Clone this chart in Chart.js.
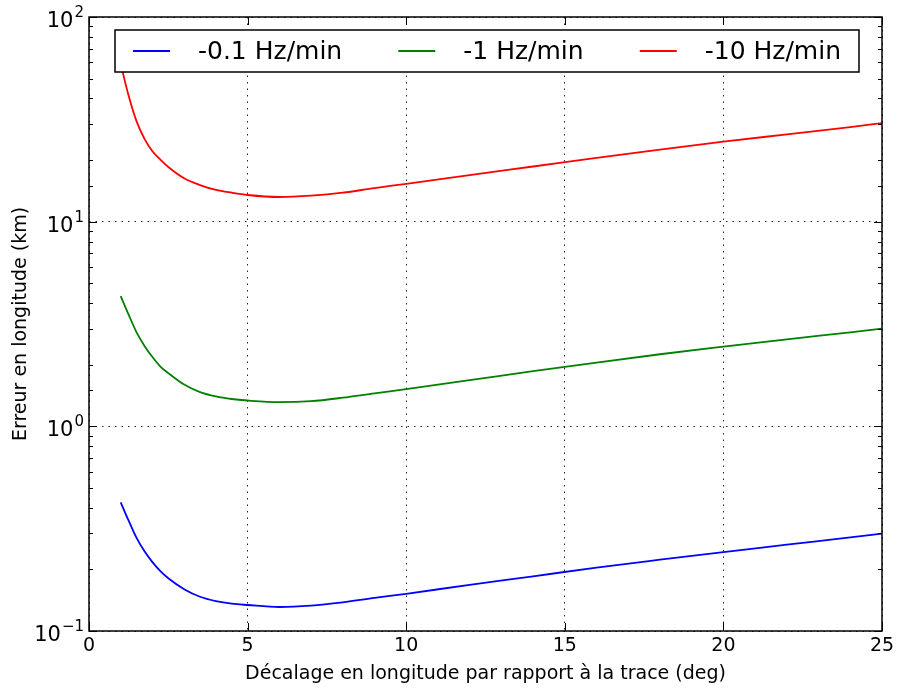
<!DOCTYPE html>
<html>
<head>
<meta charset="utf-8">
<script src="https://cdn.jsdelivr.net/npm/chart.js@4.4.1/dist/chart.umd.min.js"></script>
<style>html,body{margin:0;padding:0;background:#fff}</style>
</head>
<body>
<canvas id="myChart" width="899" height="693"></canvas>
<script>
// x : décalage en longitude (deg)
const xs = [1, 1.25, 1.5, 1.75, 2, 2.25, 2.5, 3, 3.5, 4, 4.5, 5, 6, 7, 8, 9, 10, 12, 14, 16, 18, 20, 22, 24, 25];

// erreur en longitude (km)
const err01 = [0.425, 0.346, 0.285, 0.245, 0.217, 0.196, 0.181, 0.160, 0.147, 0.140, 0.136, 0.134, 0.131, 0.133, 0.138, 0.145, 0.152, 0.168, 0.185, 0.204, 0.223, 0.243, 0.264, 0.287, 0.299];
const err1 = [4.33, 3.51, 2.88, 2.47, 2.18, 1.96, 1.82, 1.60, 1.47, 1.40, 1.36, 1.337, 1.312, 1.327, 1.38, 1.45, 1.52, 1.68, 1.86, 2.05, 2.25, 2.45, 2.66, 2.88, 3.00];
const err10 = [58.9, 41.2, 30.9, 25.4, 22.1, 20.1, 18.5, 16.3, 15.1, 14.3, 13.85, 13.5, 13.2, 13.4, 13.85, 14.6, 15.3, 16.9, 18.6, 20.5, 22.5, 24.6, 26.7, 29.0, 30.3];

const labels = ['-0.1 Hz/min', '-1 Hz/min', '-10 Hz/min'];
const colors = ['#0000ff', '#008000', '#ff0000'];
const xTicks = [0, 5, 10, 15, 20, 25];

const FONT = "'DejaVu Sans', sans-serif";

const toPts = arr => arr.map((v, i) => ({x: xs[i], y: v}));
const isPow10 = v => Math.abs(Math.log10(v) - Math.round(Math.log10(v))) < 1e-6;

const decor = {
  id: 'decor',
  afterDraw(chart) {
    const {ctx, chartArea: a, scales: {x, y}} = chart;
    ctx.save();
    ctx.strokeStyle = '#000';
    ctx.lineWidth = 1;
    const seg = (x1, y1, x2, y2) => { ctx.beginPath(); ctx.moveTo(x1, y1); ctx.lineTo(x2, y2); ctx.stroke(); };
    x.ticks.forEach(t => {
      const px = Math.round(x.getPixelForValue(t.value)) + 0.5;
      seg(px, a.bottom, px, a.bottom - 8);
      seg(px, a.top, px, a.top + 8);
    });
    y.ticks.forEach(t => {
      const py = Math.round(y.getPixelForValue(t.value)) + 0.5;
      const major = isPow10(t.value);
      const len = major ? 8 : 4;
      seg(a.left, py, a.left + len, py);
      seg(a.right, py, a.right - len, py);
      if (major) {
        // étiquette 10^n avec exposant
        const e = String(Math.round(Math.log10(t.value))).replace('-', '\u2212');
        ctx.fillStyle = '#000';
        ctx.textBaseline = 'alphabetic';
        ctx.textAlign = 'right';
        ctx.font = '15px ' + FONT;
        const ew = ctx.measureText(e).width;
        const right = a.left - 5;
        ctx.fillText(e, right, py - 1);
        ctx.font = '21px ' + FONT;
        ctx.fillText('10', right - ew - 1, py + 9);
      }
    });
    ctx.lineWidth = 1.5;
    ctx.strokeRect(a.left, a.top, a.right - a.left, a.bottom - a.top);

    // légende
    const bx = 115, by = 30, bw = 744, bh = 42;
    ctx.fillStyle = '#fff';
    ctx.fillRect(bx, by, bw, bh);
    ctx.lineWidth = 1.5;
    ctx.strokeStyle = '#000';
    ctx.strokeRect(bx, by, bw, bh);
    ctx.font = '25px ' + FONT;
    ctx.textAlign = 'left';
    ctx.textBaseline = 'middle';
    const widths = chart.data.datasets.map(d => ctx.measureText(d.label).width);
    const lineLen = 37, gap = 28, pad = 18;
    const colGap = (bw - 2 * pad - 3 * (lineLen + gap) - widths.reduce((s, w) => s + w, 0)) / 2;
    let cx = bx + pad;
    const cy = by + bh / 2;
    chart.data.datasets.forEach((d, i) => {
      ctx.strokeStyle = d.borderColor;
      ctx.lineWidth = 2;
      seg(cx, cy, cx + lineLen, cy);
      ctx.fillStyle = '#000';
      ctx.fillText(d.label, cx + lineLen + gap, cy + 1);
      cx += lineLen + gap + widths[i] + colGap;
    });
    ctx.restore();
  }
};

const ctx = document.getElementById('myChart').getContext('2d');
const chart = new Chart(ctx, {
  type: 'line',
  data: {
    datasets: [err01, err1, err10].map((arr, i) => ({
      label: labels[i],
      data: toPts(arr),
      borderColor: colors[i],
      borderWidth: 1.8,
      pointRadius: 0,
      fill: false,
      cubicInterpolationMode: 'monotone'
    }))
  },
  options: {
    responsive: false,
    animation: false,
    devicePixelRatio: 1,
    layout: {padding: {top: 17, right: 17, left: 0, bottom: 0}},
    plugins: {legend: {display: false}, tooltip: {enabled: false}},
    scales: {
      x: {
        type: 'linear',
        min: 0,
        max: 25,
        afterBuildTicks: s => { s.ticks = xTicks.map(v => ({value: v})); },
        afterFit: s => { s.height = 62; },
        border: {display: false, dash: [1.5, 5]},
        grid: {color: 'rgba(0,0,0,0.85)', lineWidth: 1, drawTicks: false},
        ticks: {font: {family: FONT, size: 19}, color: '#000', padding: 4, maxRotation: 0},
        title: {display: true, text: 'Décalage en longitude par rapport à la trace (deg)', font: {family: FONT, size: 19}, color: '#000', padding: {bottom: 8}}
      },
      y: {
        type: 'logarithmic',
        min: 0.1,
        max: 100,
        afterFit: s => { s.width = 89; },
        border: {display: false, dash: [1.5, 5]},
        grid: {
          color: c => (c.tick && isPow10(c.tick.value)) ? 'rgba(0,0,0,0.85)' : 'rgba(0,0,0,0)',
          lineWidth: 1, drawTicks: false
        },
        ticks: {autoSkip: false, display: true, color: 'rgba(0,0,0,0)', callback: () => ''},
        title: {display: true, text: 'Erreur en longitude (km)', font: {family: FONT, size: 19}, color: '#000', padding: {top: 10}}
      }
    }
  },
  plugins: [decor]
});
</script>
</body>
</html>
